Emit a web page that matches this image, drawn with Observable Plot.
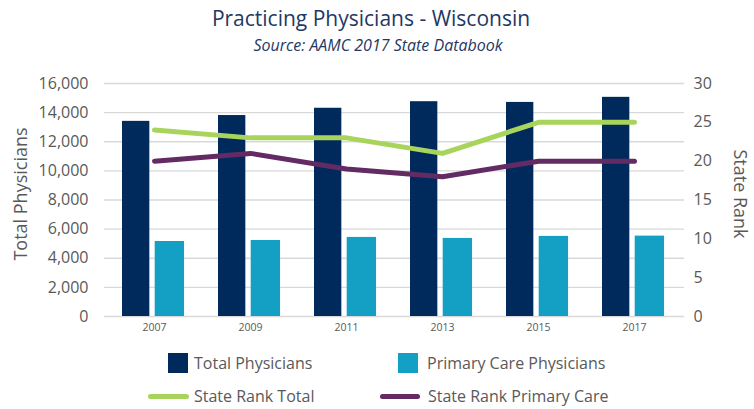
<!DOCTYPE html>
<html><head><meta charset="utf-8">
<script src="https://cdn.jsdelivr.net/npm/d3@7"></script>
<script src="https://cdn.jsdelivr.net/npm/@observablehq/plot@0.6"></script>
<style>
body{margin:0;background:#fff;font-family:"Open Sans",sans-serif;}
#wrap{position:relative;width:754px;height:409px;overflow:hidden;}
#title{position:absolute;left:0;width:742px;top:4px;text-align:center;font-size:21px;color:#1f3864;}
#sub{position:absolute;left:0;width:756px;top:35px;text-align:center;font-size:16px;font-style:italic;color:#1f3864;line-height:20px;}
#chart{position:absolute;left:0;top:60px;}
.lg{position:absolute;font-size:16px;color:#595959;line-height:16px;white-space:nowrap;}
.sw{position:absolute;width:20px;height:20px;}
.ln{position:absolute;height:5px;border-radius:3px;}
.at{position:absolute;font-size:18px;color:#595959;white-space:nowrap;line-height:20px;width:200px;text-align:center;}
</style></head><body>
<div id="wrap">
<div id="title">Practicing Physicians - Wisconsin</div>
<div id="sub">Source: AAMC 2017 State Databook</div>
<div id="chart"></div>
<div class="at" style="left:-80px;top:184px;transform:rotate(-90deg)">Total Physicians</div>
<div class="at" style="left:641px;top:184px;transform:rotate(90deg)">State Rank</div>
<div class="sw" style="left:168px;top:353px;background:#002a5c"></div>
<div class="lg" style="left:194px;top:355px">Total Physicians</div>
<div class="sw" style="left:398px;top:353px;background:#149fc4"></div>
<div class="lg" style="left:427px;top:355px">Primary Care Physicians</div>
<div class="ln" style="left:148px;width:41px;top:394px;background:#a9d45c"></div>
<div class="lg" style="left:194px;top:388px">State Rank Total</div>
<div class="ln" style="left:380px;width:40px;top:394px;background:#632b63"></div>
<div class="lg" style="left:428px;top:388px">State Rank Primary Care</div>
</div>
<script>
const years = ["2007", "2009", "2011", "2013", "2015", "2017"];
const totalPhysicians = [13400, 13800, 14300, 14750, 14700, 15050];
const primaryCarePhysicians = [5150, 5220, 5430, 5360, 5500, 5520];
const stateRankTotal = [24, 23, 23, 21, 25, 25];
const stateRankPrimaryCare = [20, 21, 19, 18, 20, 20];
const leftTicks = [0, 2000, 4000, 6000, 8000, 10000, 12000, 14000, 16000];
const rightTicks = [0, 5, 10, 15, 20, 25, 30];

const leftMax = 16000, rightMax = 30;
const k = leftMax / rightMax;
const rows = years.map((y, i) => ({
  year: y,
  total: totalPhysicians[i],
  primary: primaryCarePhysicians[i],
  rankTotal: stateRankTotal[i] * k,
  rankPrimary: stateRankPrimaryCare[i] * k
}));

const bw = (754 - 104 - 70) / years.length;
const grey = "#595959";

const chart = Plot.plot({
  width: 754,
  height: 280,
  marginTop: 23,
  marginBottom: 24,
  marginLeft: 104,
  marginRight: 70,
  style: {fontFamily: "Open Sans, sans-serif", background: "transparent", overflow: "visible"},
  x: {domain: years, padding: 0, axis: null},
  y: {domain: [0, leftMax], axis: null},
  marks: [
    Plot.ruleY(leftTicks, {stroke: "#d9d9d9", strokeWidth: 1.3}),
    Plot.barY(rows, {x: "year", y: "total", fill: "#002a5c", insetLeft: 16, insetRight: bw - 16 - 28}),
    Plot.barY(rows, {x: "year", y: "primary", fill: "#149fc4", insetLeft: 48.7, insetRight: bw - 48.7 - 30}),
    Plot.line(rows, {x: "year", y: "rankTotal", stroke: "#a9d45c", strokeWidth: 5, strokeLinecap: "round", strokeLinejoin: "round"}),
    Plot.line(rows, {x: "year", y: "rankPrimary", stroke: "#632b63", strokeWidth: 5, strokeLinecap: "round", strokeLinejoin: "round"}),
    Plot.axisY({ticks: leftTicks, tickSize: 0, tickPadding: 16, fontSize: 16, color: grey, tickFormat: d3.format(","), label: null}),
    Plot.axisY({anchor: "right", ticks: rightTicks.map(r => r * k), tickSize: 0, tickPadding: 9, fontSize: 16, color: grey, tickFormat: d => Math.round(d / k), label: null}),
    Plot.axisX({tickSize: 0, tickPadding: 7, fontSize: 10.5, color: grey, label: null})
  ]
});
document.getElementById("chart").appendChild(chart);
</script>
</body></html>
